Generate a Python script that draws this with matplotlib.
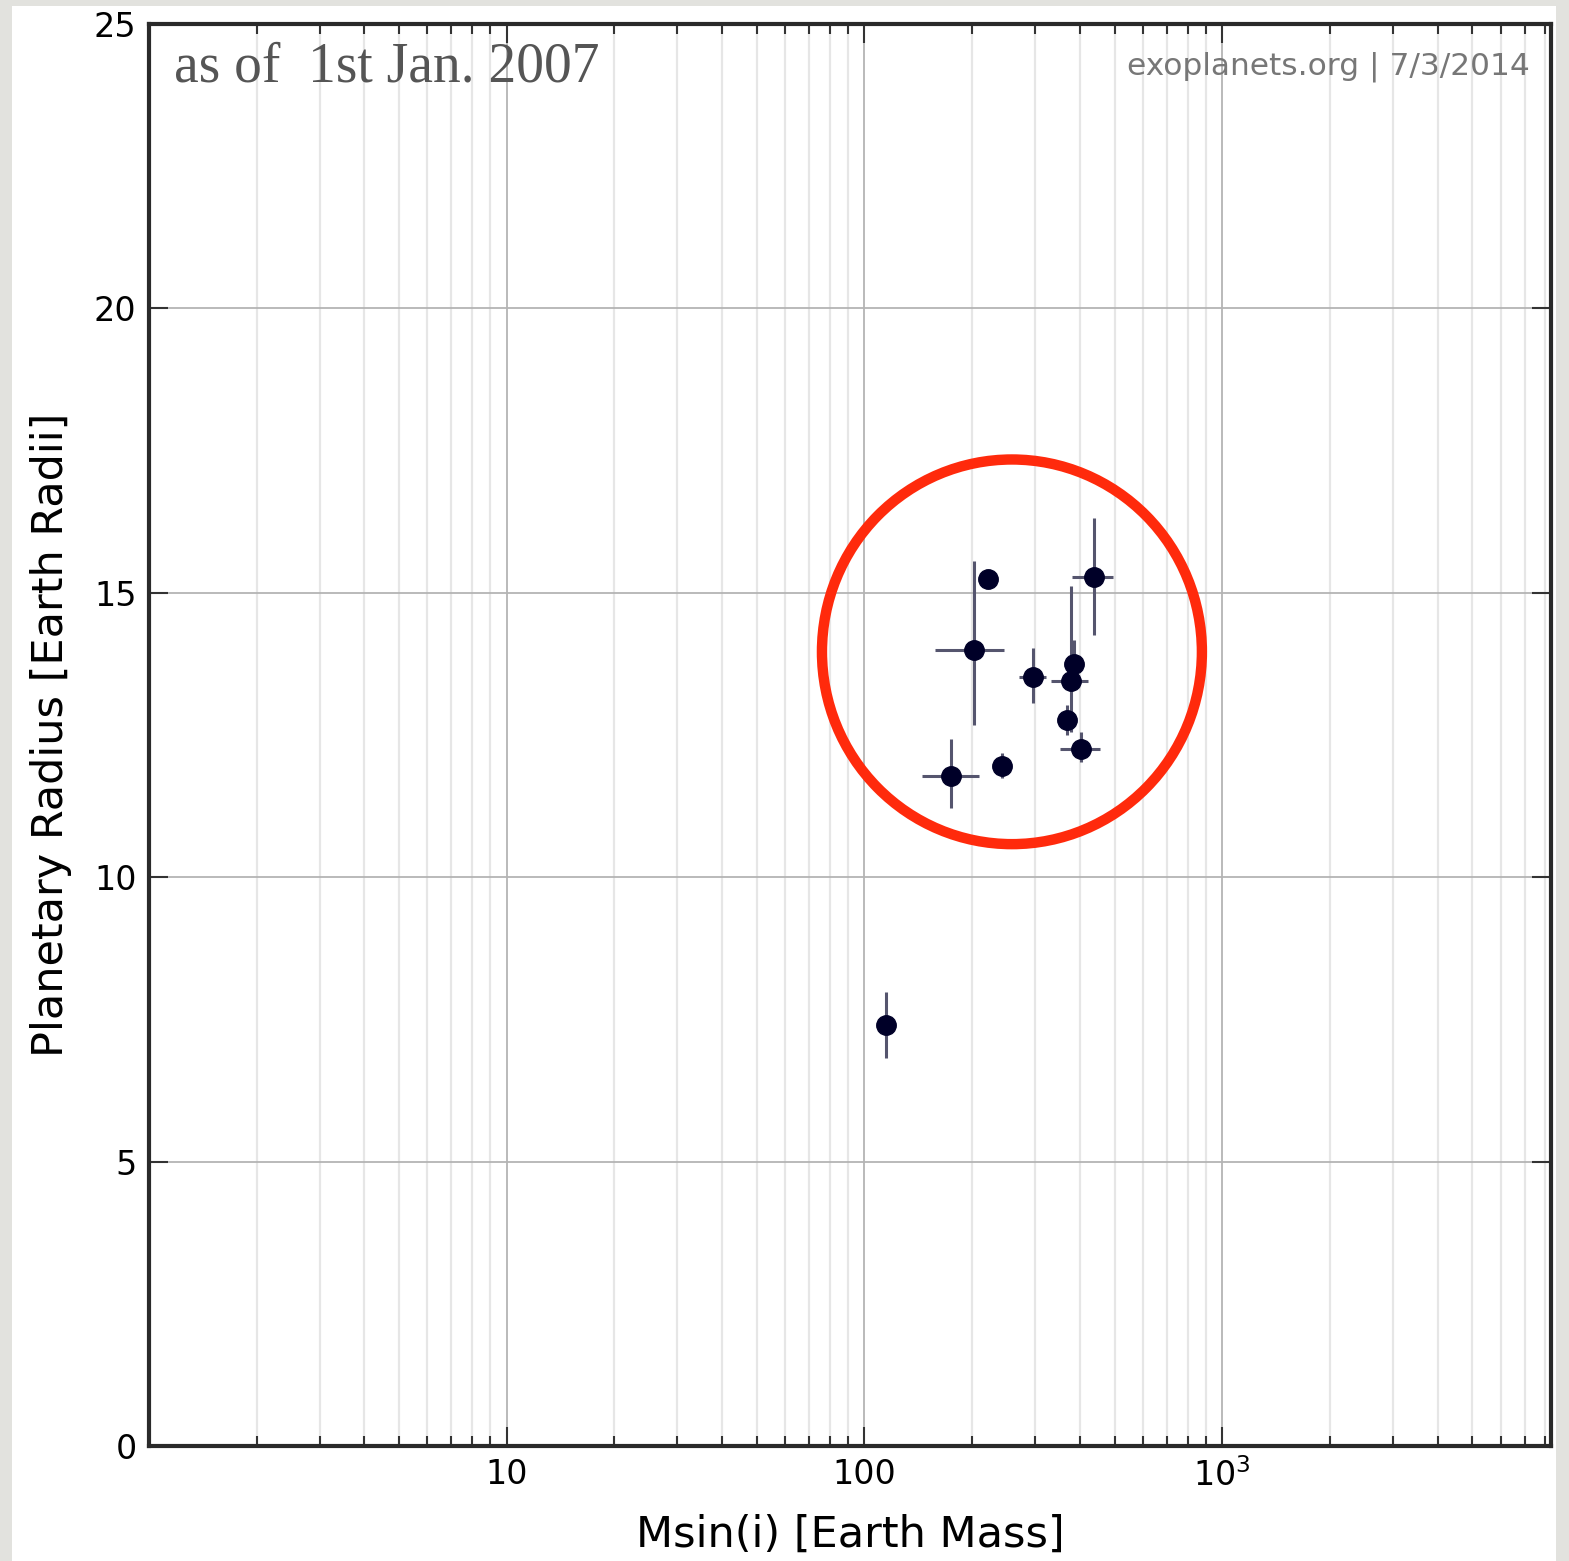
import numpy as np
import matplotlib.pyplot as plt
from matplotlib.patches import Ellipse, Rectangle
from matplotlib.ticker import FixedLocator, FixedFormatter, NullFormatter

# planets known as of 2007
mass = [221, 202, 296, 385, 378, 369, 404, 438, 175, 242, 114.5]
mass_lo = [0, 45, 26, 0, 45, 0, 52, 57, 30, 8, 0]
mass_hi = [0, 44, 26, 0, 44, 0, 52, 57, 34, 8, 0]
radius = [15.24, 14.0, 13.52, 13.74, 13.45, 12.76, 12.26, 15.28, 11.78, 11.96, 7.40]
rad_lo = [0, 1.32, 0.46, 0.30, 0.90, 0.26, 0.23, 1.03, 0.56, 0.22, 0.58]
rad_hi = [0, 1.56, 0.51, 0.43, 1.67, 0.27, 0.30, 1.03, 0.65, 0.22, 0.59]

xticks = [10, 100, 1000]
xticklabels = ['10', '100', r'$\mathregular{10^3}$']
yticks = [0, 5, 10, 15, 20, 25]

fig = plt.figure(figsize=(15.69, 15.61), dpi=100)
fig.patch.set_facecolor('#e2e2de')
# white page over the grey frame
fig.patches.append(Rectangle((12/1569, 0), 1544/1569, 1 - 6/1561, transform=fig.transFigure,
                             facecolor='white', edgecolor='none', zorder=-5))

ax = fig.add_axes([149/1569, 1 - 1446/1561, 1402/1569, 1422/1561])
ax.set_zorder(2)
ax.set_xscale('log')
ax.set_xlim(1, 8300)
ax.set_ylim(0, 25)

ax.errorbar(mass, radius, xerr=[mass_lo, mass_hi], yerr=[rad_lo, rad_hi],
            fmt='o', color='#000028', ms=14, ecolor='#55556e', elinewidth=2.2,
            capsize=0, zorder=5)

ax.xaxis.set_major_locator(FixedLocator(xticks))
ax.xaxis.set_major_formatter(FixedFormatter(xticklabels))
minor = [m * 10**d for d in range(0, 4) for m in range(2, 10)]
ax.xaxis.set_minor_locator(FixedLocator(minor))
ax.xaxis.set_minor_formatter(NullFormatter())
ax.set_yticks(yticks)

ax.grid(which='major', color='#b4b4b4', lw=1.3)
ax.grid(which='minor', axis='x', color='#e6e6e6', lw=1.6)
ax.set_axisbelow(True)

ax.tick_params(which='major', direction='in', length=14, width=1.5, color='#333333',
               top=True, right=True, labelsize=24, pad=9)
ax.tick_params(which='minor', direction='in', length=7, width=1.5, color='#333333',
               top=True, right=False)
for s in ax.spines.values():
    s.set_linewidth(3)
    s.set_color('#2a2a2a')

ax.set_xlabel('Msin(i) [Earth Mass]', fontsize=31, labelpad=15)
ax.set_ylabel('Planetary Radius [Earth Radii]', fontsize=31, labelpad=16)

ax.text(0.018, 0.988, 'as of  1st Jan. 2007', transform=ax.transAxes, ha='left', va='top',
        fontsize=40, family='Liberation Serif', color='#555555')
ax.text(0.985, 0.981, 'exoplanets.org | 7/3/2014', transform=ax.transAxes, ha='right',
        va='top', fontsize=22.5, color='#777777')

# red highlight circle
ax.add_patch(Ellipse((0.6155, 0.5585), 0.271, 0.2705, transform=ax.transAxes,
                     facecolor='none', edgecolor='#ff2a0c', lw=7.5, zorder=6))

fig.savefig('out.png', dpi=100)
